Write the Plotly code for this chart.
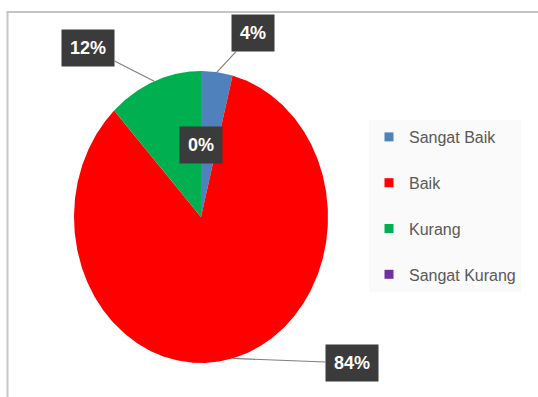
import numpy as np
import plotly.graph_objects as go

categories = ["Sangat Baik", "Baik", "Kurang", "Sangat Kurang"]
values = [4, 84, 12, 0]
labels = ["4%", "84%", "12%", "0%"]
colors = ["#4f81bd", "#ff0000", "#00b050", "#7030a0"]

W, H = 538, 397
FONT = "Liberation Sans Narrow, Arial Narrow, Liberation Sans, sans-serif"

fig = go.Figure()

total = float(sum(values))
start = 0.0
mids = []
for cat, val, col in zip(categories, values, colors):
    frac = val / total
    a0, a1 = start * 2 * np.pi, (start + frac) * 2 * np.pi
    mids.append((a0 + a1) / 2)
    if frac > 0:
        n = max(3, int(frac * 720))
        t = np.linspace(a0, a1, n)
        xs = np.concatenate([[0], np.sin(t), [0]])
        ys = np.concatenate([[0], np.cos(t), [0]])
        fig.add_trace(go.Scatter(x=xs, y=ys, fill="toself", fillcolor=col,
                                 mode="lines", line=dict(width=0, color=col),
                                 hoverinfo="skip", showlegend=False))
    start += frac

# legend-only traces
for i, (cat, col) in enumerate(zip(categories, colors)):
    fig.add_trace(go.Scatter(x=[None], y=[None], mode="markers", name=cat,
                             legendgroup=str(i),
                             marker=dict(symbol="square", size=9, color=col)))

# label positions (data units of the unit ellipse)
label_pos = {"Sangat Baik": (0.41, 1.26), "Baik": (1.19, -1.0),
             "Kurang": (-0.89, 1.16), "Sangat Kurang": (0.0, 0.49)}
for cat, lab, val, m in zip(categories, labels, values, mids):
    lx, ly = label_pos[cat]
    common = dict(text="<b>%s</b>" % lab, font=dict(family=FONT, size=18, color="white"),
                  bgcolor="#3b3b3b", borderpad=8, xref="x", yref="y")
    if val > 0:
        fig.add_annotation(x=np.sin(m), y=np.cos(m), ax=lx, ay=ly, axref="x", ayref="y",
                           showarrow=True, arrowhead=0, arrowwidth=1.2,
                           arrowcolor="#7f7f7f", **common)
    else:
        fig.add_annotation(x=lx, y=ly, showarrow=False, **common)

fig.add_shape(type="rect", xref="paper", yref="paper",
              x0=7.5 / W, x1=1.02, y0=-0.02, y1=1 - 12 / H,
              line=dict(color="#c4c4c4", width=2), layer="below")

cx, cy, rx, ry = 201, 217, 127, 146
fig.update_xaxes(range=[-cx / rx, (W - cx) / rx], visible=False, fixedrange=True)
fig.update_yaxes(range=[(cy - H) / ry, cy / ry], visible=False, fixedrange=True)

fig.update_layout(
    width=W, height=H, margin=dict(l=0, r=0, t=0, b=0),
    paper_bgcolor="white", plot_bgcolor="white",
    legend=dict(x=369 / W, y=1 - 120 / H, xanchor="left", yanchor="top",
                bgcolor="#fafafa", font=dict(family=FONT, size=16, color="#595959"),
                tracegroupgap=22, itemclick=False, itemdoubleclick=False),
    showlegend=True,
)

fig.write_html("out.html")
